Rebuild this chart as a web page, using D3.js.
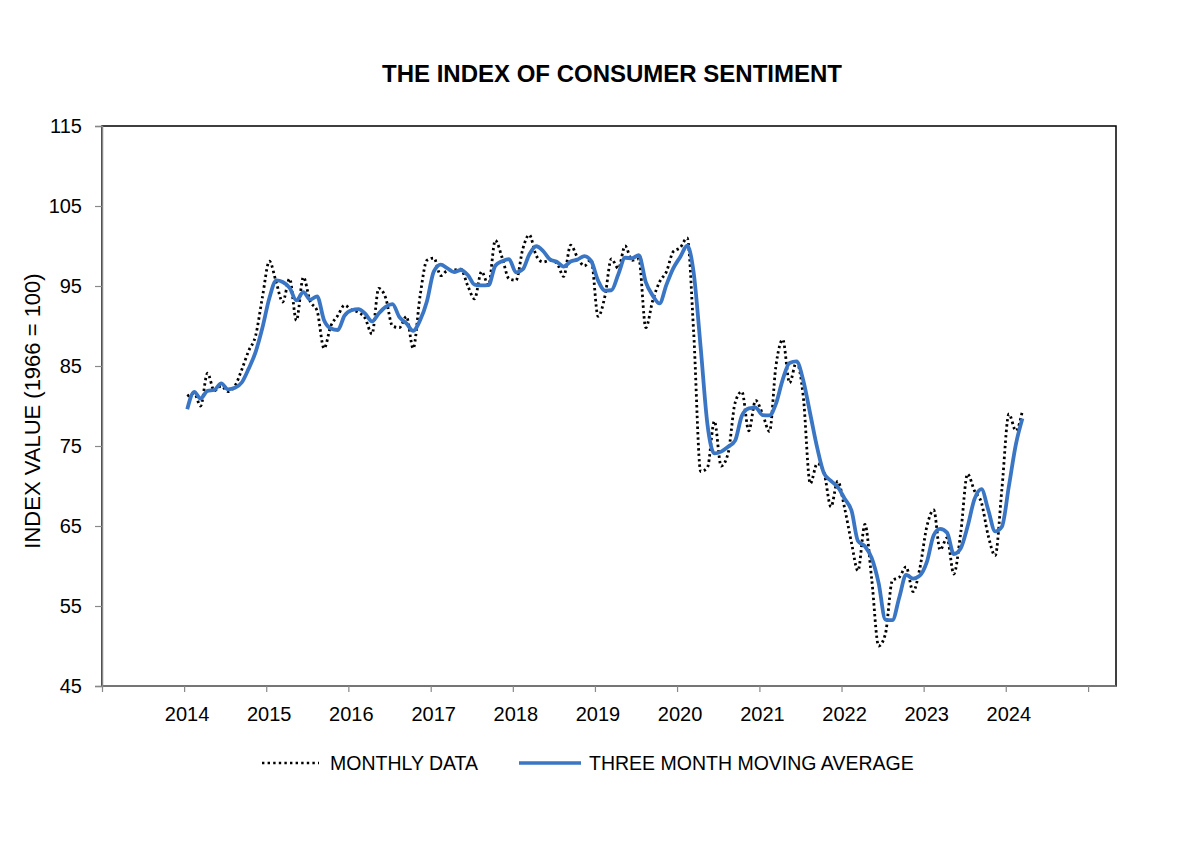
<!DOCTYPE html>
<html><head><meta charset="utf-8">
<script src="https://cdn.jsdelivr.net/npm/d3@7"></script>
<style>body{margin:0;background:#fff}svg{display:block;font-family:"Liberation Sans",Arial,sans-serif}</style>
</head><body><svg id="c" width="1200" height="853"></svg>
<script>
const startYear = 2014, startMonth = 0;
const monthly = [
81.2,81.6,80.0,84.1,81.9,82.5,81.8,82.5,84.6,86.9,88.8,93.6,
98.1,95.4,93.0,95.9,90.7,96.1,93.1,91.9,87.2,90.0,91.3,92.6,
92.0,91.7,91.0,89.0,94.7,93.5,90.0,89.8,91.2,87.2,93.8,98.2,
98.5,96.3,96.9,97.0,97.1,95.0,93.4,96.8,95.1,100.7,98.5,95.9,
95.7,99.7,101.4,98.8,98.0,98.2,97.9,96.2,100.1,98.6,97.5,98.3,
91.2,93.8,98.4,97.2,100.0,98.2,98.4,89.8,93.2,95.5,96.8,99.3,
99.8,101.0,89.1,71.8,72.3,78.1,72.5,74.1,80.4,81.8,76.9,80.7,
79.0,76.8,84.9,88.3,82.9,85.5,81.2,70.3,72.8,71.7,67.4,70.6,
67.2,62.8,59.4,65.2,58.4,50.0,51.5,58.2,58.6,59.9,56.8,59.7,
64.9,67.0,62.0,63.5,59.0,64.2,71.5,69.4,67.9,63.8,61.3,69.7,
79.0,76.9,79.4];
const movingAvg = [
79.60,81.77,80.93,81.90,82.00,82.83,82.07,82.27,82.97,84.67,86.77,89.77,
93.50,95.70,95.50,94.77,93.20,94.23,93.30,93.70,90.73,89.70,89.50,91.30,
91.97,92.10,91.57,90.57,91.57,92.40,92.73,91.10,90.33,89.40,90.73,93.07,
96.83,97.67,97.23,96.73,97.00,96.37,95.17,95.07,95.10,97.53,98.10,98.37,
96.70,97.10,98.93,99.97,99.40,98.33,98.03,97.43,98.07,98.30,98.73,98.13,
95.67,94.43,94.47,96.47,98.53,98.47,98.87,95.47,93.80,92.83,95.17,97.20,
98.63,100.03,96.63,87.30,77.73,74.07,74.30,74.90,75.67,78.77,79.70,79.80,
78.87,78.83,80.23,83.33,85.37,85.57,83.20,79.00,74.77,71.60,70.63,69.90,
68.40,66.87,63.13,62.47,61.00,57.87,53.30,53.23,56.10,58.90,58.43,58.80,
60.47,63.87,64.63,64.17,61.50,62.23,64.90,68.37,69.60,67.03,64.33,64.93,
70.00,75.20,78.43];
const yTicks = [45,55,65,75,85,95,105,115];
const yearTicks = [2013,2014,2015,2016,2017,2018,2019,2020,2021,2022,2023,2024,2025];
const yearLabels = [2014,2015,2016,2017,2018,2019,2020,2021,2022,2023,2024];
const title = "THE INDEX OF CONSUMER SENTIMENT";
const yTitle = "INDEX VALUE (1966 = 100)";
const legendNames = ["MONTHLY DATA","THREE MONTH MOVING AVERAGE"];

const L=102,R=1116,T=126,B=686;
const FF="Liberation Sans, Arial, sans-serif";
const svg=d3.select("#c");
const x=d3.scaleTime().domain([new Date(2013,0,1),new Date(2025,4,5)]).range([L,R]);
const y=d3.scaleLinear().domain([45,115]).range([B,T]);
const dateOf=i=>new Date(startYear,startMonth+i,15);

// plot border
svg.append("rect").attr("x",L).attr("y",T).attr("width",R-L).attr("height",B-T)
  .attr("fill","none").attr("stroke","#000").attr("stroke-width",1.5);

// y axis
const ya=svg.append("g").attr("transform",`translate(${L},0)`)
  .call(d3.axisLeft(y).tickValues(yTicks).tickSize(7).tickPadding(13).tickFormat(d3.format("d")));
ya.select(".domain").attr("stroke","#888").attr("stroke-width",1.5);
ya.selectAll(".tick line").attr("stroke","#888").attr("stroke-width",1.2);
ya.selectAll("text").attr("font-size",20).attr("fill","#000").attr("font-family",FF);

// x axis
const xa=svg.append("g").attr("transform",`translate(0,${B})`)
  .call(d3.axisBottom(x).tickValues(yearTicks.map(v=>new Date(v,0,1))).tickSize(6).tickPadding(14.5)
    .tickFormat(d=>yearLabels.includes(d.getFullYear())?String(d.getFullYear()):""));
xa.select(".domain").attr("stroke","#888").attr("stroke-width",1.5).attr("d",`M${L},0H${R}`);
xa.selectAll(".tick line").attr("stroke","#888").attr("stroke-width",1.2);
xa.selectAll("text").attr("font-size",20).attr("fill","#000").attr("font-family",FF).attr("dx",2.5);

// lines
const lineGen=d3.line().x((d,i)=>x(dateOf(i))).y(d=>y(d)).curve(d3.curveMonotoneX);
svg.append("path").datum(monthly).attr("d",lineGen).attr("fill","none")
  .attr("stroke","#000").attr("stroke-width",2.8).attr("stroke-dasharray","2.4,3");
svg.append("path").datum(movingAvg).attr("d",lineGen).attr("fill","none")
  .attr("stroke","#3a76c4").attr("stroke-width",3.8).attr("stroke-linejoin","round");

// titles
svg.append("text").attr("x",612).attr("y",82).attr("text-anchor","middle")
  .attr("font-size",24).attr("font-weight","bold").text(title);
svg.append("text").attr("transform","translate(40,411) rotate(-90)").attr("text-anchor","middle")
  .attr("font-size",22).text(yTitle);

// legend
const lg=svg.append("g");
lg.append("line").attr("x1",262).attr("x2",319).attr("y1",763).attr("y2",763)
  .attr("stroke","#000").attr("stroke-width",2.5).attr("stroke-dasharray","2.4,3.2");
lg.append("text").attr("x",330).attr("y",770).attr("font-size",19.5).text(legendNames[0]);
lg.append("line").attr("x1",519).attr("x2",581).attr("y1",763).attr("y2",763)
  .attr("stroke","#3a76c4").attr("stroke-width",3.6);
lg.append("text").attr("x",589).attr("y",770).attr("font-size",19.5).text(legendNames[1]);
</script></body></html>
